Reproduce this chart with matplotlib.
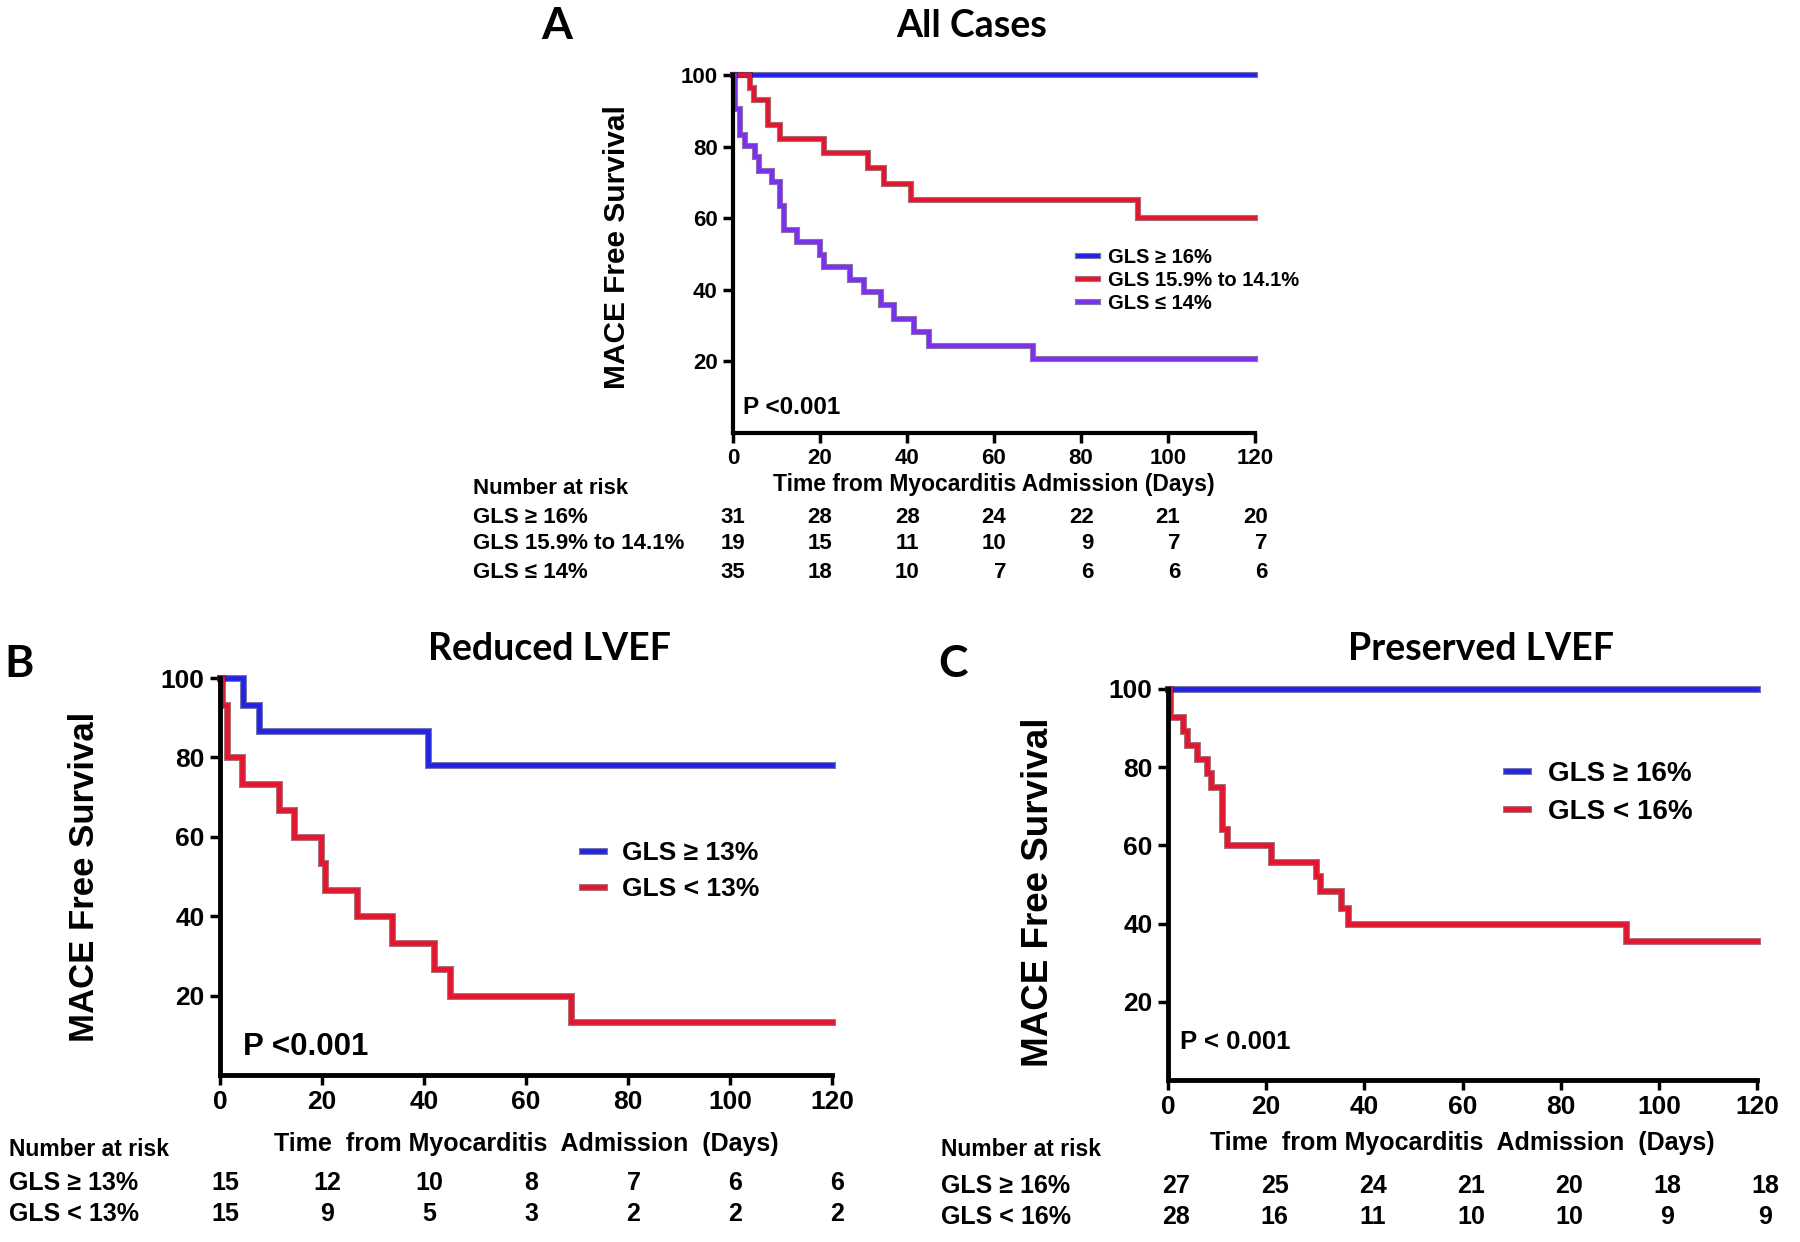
import numpy as np
import matplotlib
matplotlib.use("Agg")
import matplotlib.pyplot as plt
import matplotlib.patheffects as pe

plt.rcParams['font.family'] = ['Liberation Sans', 'DejaVu Sans']
plt.rcParams['font.weight'] = 'bold'

# ---- data ----
day_ticks = [0, 20, 40, 60, 80, 100, 120]

# Panel A: all cases
a_labels = ['GLS \u2265 16%', 'GLS 15.9% to 14.1%', 'GLS \u2264 14%']
a_t_high = [0, 120]
a_s_high = [100, 100]
a_t_mid = [0, 3.8, 4.8, 8.0, 10.8, 21.0, 31.0, 34.8, 41.0, 93.2, 120]
a_s_mid = [100, 96.3, 92.9, 85.9, 82.1, 78.1, 73.9, 69.5, 65.0, 60.0, 60.0]
a_t_low = [0, 0.4, 1.6, 2.8, 5.0, 6.0, 9.0, 10.8, 11.8, 14.8, 19.9, 21.0, 27.0,
           30.0, 34.0, 37.0, 41.7, 45.0, 69.0, 120]
a_s_low = [100, 90.5, 83.3, 80.2, 77.0, 73.2, 70.0, 63.4, 56.8, 53.3, 49.8, 46.3,
           42.7, 39.4, 35.7, 31.9, 28.2, 24.4, 20.8, 20.8]
a_risk = [[31, 28, 28, 24, 22, 21, 20],
          [19, 15, 11, 10, 9, 7, 7],
          [35, 18, 10, 7, 6, 6, 6]]

# Panel B: reduced LVEF
b_labels = ['GLS \u2265 13%', 'GLS < 13%']
b_t_high = [0, 4.6, 7.6, 40.8, 120]
b_s_high = [100, 93.3, 86.7, 78.0, 78.0]
b_t_low = [0, 0.3, 1.3, 4.3, 11.6, 14.6, 19.9, 20.6, 26.8, 33.8, 42.0, 45.0, 68.9, 120]
b_s_low = [100, 93.3, 80.0, 73.3, 66.7, 60.0, 53.3, 46.7, 40.0, 33.3, 26.7, 20.0, 13.3, 13.3]
b_risk = [[15, 12, 10, 8, 7, 6, 6],
          [15, 9, 5, 3, 2, 2, 2]]

# Panel C: preserved LVEF
c_labels = ['GLS \u2265 16%', 'GLS < 16%']
c_t_high = [0, 120]
c_s_high = [100, 100]
c_t_low = [0, 0.5, 3.0, 3.9, 5.9, 7.9, 8.7, 10.9, 12.1, 20.9, 30.2, 31.0, 35.2,
           36.7, 93.4, 120]
c_s_low = [100, 92.9, 89.3, 85.7, 82.1, 78.6, 75.0, 64.3, 60.0, 55.7, 52.1, 48.3,
           44.0, 40.0, 35.5, 35.5]
c_risk = [[27, 25, 24, 21, 20, 18, 18],
          [28, 16, 11, 10, 10, 9, 9]]

blue = '#2323e8'
red = '#e4162f'
purple = '#7a30ec'
dark = {blue: '#14146e', red: '#6e0a16', purple: '#3a1670'}

W, H = 1800, 1242
fig = plt.figure(figsize=(18, 12.42), dpi=100)


def fx(px):
    return px / W


def fy(py):
    return 1 - py / H


def make_axes(left, top, right, bottom):
    return fig.add_axes([fx(left), fy(bottom), fx(right) - fx(left), fy(top) - fy(bottom)])


def style_axes(ax, tick_fs, spine_w):
    ax.set_xlim(0, 120)
    ax.set_ylim(0, 100)
    ax.set_xticks(day_ticks)
    ax.set_yticks([20, 40, 60, 80, 100])
    for s in ['top', 'right']:
        ax.spines[s].set_visible(False)
    for s in ['left', 'bottom']:
        ax.spines[s].set_linewidth(spine_w)
    ax.tick_params(direction='out', length=7, width=2.5, labelsize=tick_fs, pad=4)
    for lab in ax.get_xticklabels() + ax.get_yticklabels():
        lab.set_fontweight('bold')


def km(ax, t, s, color, lw, label):
    ax.step(t, s, where='post', color=color, lw=lw, label=label, clip_on=False,
            solid_joinstyle='miter',
            path_effects=[pe.Stroke(linewidth=lw + 1.6, foreground=dark[color], alpha=0.6),
                          pe.Normal()])


def risk_table(ax, title_xy, label_x, row_ys, labels, rows, fs, head_fs, dx, ha):
    fig.text(fx(title_xy[0]), fy(title_xy[1]), 'Number at risk', fontsize=head_fs,
             fontweight='bold', ha='left', va='center')
    for y, lab, vals in zip(row_ys, labels, rows):
        fig.text(fx(label_x), fy(y), lab, fontsize=fs, fontweight='bold', ha='left', va='center')
        for d, v in zip(day_ticks, vals):
            ax.annotate(str(v), xy=(d, fy(y)), xycoords=('data', 'figure fraction'),
                        xytext=(dx, 0), textcoords='offset points',
                        fontsize=fs, fontweight='bold', ha=ha, va='center',
                        annotation_clip=False)


# ---------------- Panel A ----------------
axA = make_axes(733, 75, 1255, 433)
style_axes(axA, 16, 3)
km(axA, a_t_high, a_s_high, blue, 2.8, a_labels[0])
km(axA, a_t_mid, a_s_mid, red, 2.8, a_labels[1])
km(axA, a_t_low, a_s_low, purple, 2.8, a_labels[2])
axA.set_ylabel('MACE Free Survival', fontsize=21.5, fontweight='bold')
axA.yaxis.set_label_coords(-0.195, 0.52)
axA.set_xlabel('Time from Myocarditis Admission (Days)', fontsize=16.5, fontweight='bold')
axA.xaxis.set_label_coords(0.5, -0.144)
axA.xaxis.label.set_va('center')
axA.text(0.02, 0.07, 'P <0.001', transform=axA.transAxes, fontsize=17.5,
         fontweight='bold', va='center', ha='left')
axA.legend(loc='upper left', bbox_to_anchor=(0.645, 0.54), frameon=False,
           fontsize=14.5, handlelength=1.0, handletextpad=0.5, labelspacing=0.2,
           borderaxespad=0)
risk_table(axA, (473, 488), 473, [517, 544, 572], a_labels, a_risk, 16, 16, 9, 'right')
fig.text(fx(557), fy(26), 'A', fontsize=32, fontweight='bold', family='Lato',
         ha='center', va='center')
fig.text(fx(972), fy(26), 'All Cases', fontsize=27, fontweight='bold', family='Lato',
         ha='center', va='center')

# ---------------- Panel B ----------------
axB = make_axes(220, 678, 832, 1075)
style_axes(axB, 19, 3.5)
km(axB, b_t_high, b_s_high, blue, 3.4, b_labels[0])
km(axB, b_t_low, b_s_low, red, 3.4, b_labels[1])
axB.set_ylabel('MACE Free Survival', fontsize=25, fontweight='bold')
axB.yaxis.set_label_coords(-0.194, 0.5)
axB.set_xlabel('Time  from Myocarditis  Admission  (Days)', fontsize=18, fontweight='bold')
axB.xaxis.set_label_coords(0.5, -0.173)
axB.xaxis.label.set_va('center')
axB.text(0.037, 0.07, 'P <0.001', transform=axB.transAxes, fontsize=22.5,
         fontweight='bold', va='center', ha='left')
axB.legend(loc='upper left', bbox_to_anchor=(0.575, 0.615), frameon=False,
           fontsize=19, handlelength=0.8, handletextpad=0.7, labelspacing=0.45,
           borderaxespad=0)
risk_table(axB, (9, 1150), 9, [1183, 1214], b_labels, b_risk, 18, 16.5, 4, 'center')
fig.text(fx(19), fy(664), 'B', fontsize=32, fontweight='bold', family='Lato',
         ha='center', va='center')
fig.text(fx(549), fy(649), 'Reduced LVEF', fontsize=27, fontweight='bold', family='Lato',
         ha='center', va='center')

# ---------------- Panel C ----------------
axC = make_axes(1168, 689, 1757, 1080)
style_axes(axC, 19, 3.5)
km(axC, c_t_high, c_s_high, blue, 3.4, c_labels[0])
km(axC, c_t_low, c_s_low, red, 3.4, c_labels[1])
axC.set_ylabel('MACE Free Survival', fontsize=26.5, fontweight='bold')
axC.yaxis.set_label_coords(-0.19, 0.48)
axC.set_xlabel('Time  from Myocarditis  Admission  (Days)', fontsize=18, fontweight='bold')
axC.xaxis.set_label_coords(0.5, -0.16)
axC.xaxis.label.set_va('center')
axC.text(0.021, 0.097, 'P < 0.001', transform=axC.transAxes, fontsize=18.5,
         fontweight='bold', va='center', ha='left')
axC.legend(loc='upper left', bbox_to_anchor=(0.555, 0.845), frameon=False,
           fontsize=20, handlelength=0.8, handletextpad=0.7, labelspacing=0.45,
           borderaxespad=0)
risk_table(axC, (941, 1150), 941, [1186, 1217], c_labels, c_risk, 18, 16.5, 6, 'center')
fig.text(fx(953), fy(664), 'C', fontsize=32, fontweight='bold', family='Lato',
         ha='center', va='center')
fig.text(fx(1481), fy(649), 'Preserved LVEF', fontsize=27, fontweight='bold', family='Lato',
         ha='center', va='center')

fig.savefig('out.png', dpi=100, facecolor='white')
